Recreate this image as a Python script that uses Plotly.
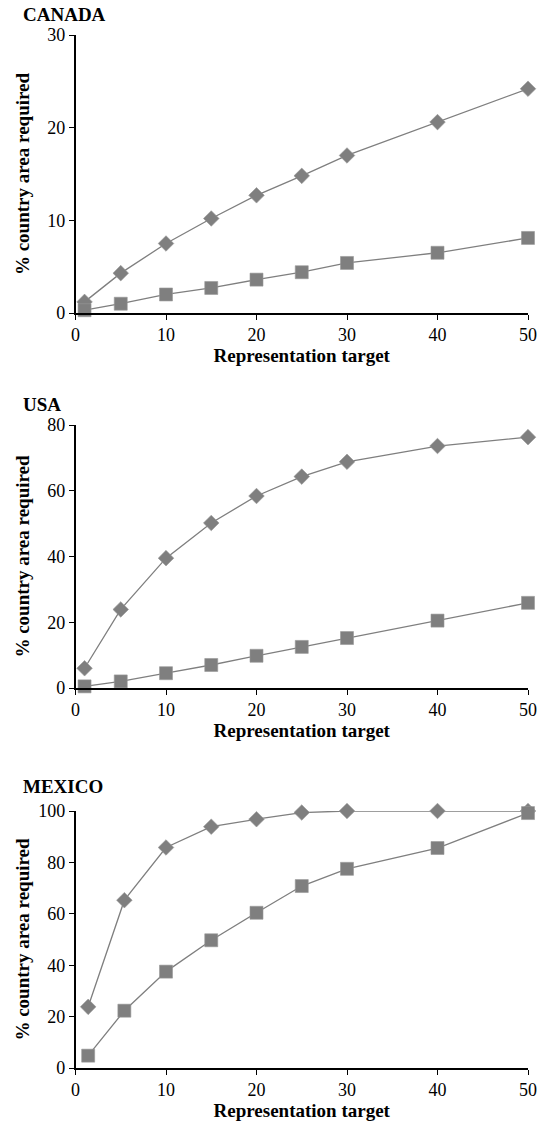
import plotly.graph_objects as go

# ---- data ----
targets = [1, 5, 10, 15, 20, 25, 30, 40, 50]
mexico_targets = [1.4, 5.4, 10, 15, 20, 25, 30, 40, 50]

canada_diamond = [1.2, 4.3, 7.5, 10.2, 12.7, 14.8, 17.0, 20.6, 24.2]
canada_square = [0.3, 1.0, 2.0, 2.7, 3.6, 4.4, 5.4, 6.5, 8.1]

usa_diamond = [6.0, 23.9, 39.5, 50.2, 58.4, 64.3, 68.8, 73.6, 76.3]
usa_square = [0.5, 2.0, 4.5, 7.0, 9.8, 12.5, 15.2, 20.5, 25.9]

mexico_diamond = [23.8, 65.3, 85.8, 93.9, 96.8, 99.4, 100, 100, 100]
mexico_square = [4.8, 22.3, 37.5, 49.7, 60.4, 70.8, 77.5, 85.6, 99.2]

countries = ["CANADA", "USA", "MEXICO"]
y_ranges = [[0, 30], [0, 80], [0, 100]]
y_dticks = [10, 20, 20]
x_ticks = [0, 10, 20, 30, 40, 50]

W, H = 544, 1125
FONT = "Liberation Serif"
GRAY = "#7f7f7f"

panels = [
    (targets, canada_diamond, canada_square),
    (targets, usa_diamond, usa_square),
    (mexico_targets, mexico_diamond, mexico_square),
]

# pixel layout of each panel (top, bottom)
panel_px = [(35, 313), (425, 688), (811, 1068)]
title_px = [14, 404, 786]
ytitle_standoff = [13, 13, 4]
x_left, x_right = 75.5, 528

fig = go.Figure()
layout = dict(
    width=W, height=H,
    margin=dict(l=0, r=0, t=0, b=0, autoexpand=False),
    paper_bgcolor="white", plot_bgcolor="white",
    showlegend=False,
    font=dict(family=FONT, size=18, color="black"),
    annotations=[],
)

for i, (xs, dia, sq) in enumerate(panels):
    n = "" if i == 0 else str(i + 1)
    xa, ya = "x" + n, "y" + n
    fig.add_trace(go.Scatter(
        x=xs, y=dia, xaxis=xa, yaxis=ya, mode="lines+markers",
        name="Diamond series", cliponaxis=False,
        line=dict(color=GRAY, width=1.3),
        marker=dict(symbol="diamond", size=12, color=GRAY,
                    line=dict(color="#999999", width=0.6)),
    ))
    fig.add_trace(go.Scatter(
        x=xs, y=sq, xaxis=xa, yaxis=ya, mode="lines+markers",
        name="Square series", cliponaxis=False,
        line=dict(color=GRAY, width=1.3),
        marker=dict(symbol="square", size=13, color=GRAY,
                    line=dict(color="#999999", width=0.6)),
    ))
    top, bot = panel_px[i]
    layout["xaxis" + n] = dict(
        domain=[x_left / W, x_right / W], anchor=ya, automargin=False,
        range=[0, 50], tickvals=x_ticks, ticks="outside", ticklen=5,
        tickcolor="black", showline=True, linecolor="black", linewidth=1.5,
        showgrid=False, zeroline=False,
        tickfont=dict(family=FONT, size=18, color="black"),
        title=dict(text="Representation target", standoff=3,
                   font=dict(family=FONT, size=19, color="black", weight="bold")),
    )
    layout["yaxis" + n] = dict(
        domain=[1 - bot / H, 1 - top / H], anchor=xa, automargin=False,
        range=y_ranges[i], dtick=y_dticks[i], ticks="outside", ticklen=5,
        tickcolor="black", showline=True, linecolor="black", linewidth=1.5,
        showgrid=False, zeroline=False,
        tickfont=dict(family=FONT, size=18, color="black"),
        title=dict(text="% country area required", standoff=ytitle_standoff[i],
                   font=dict(family=FONT, size=19, color="black", weight="bold")),
    )
    layout["annotations"].append(dict(
        text=countries[i], xref="paper", yref="paper",
        x=21 / W, y=1 - title_px[i] / H, xanchor="left", yanchor="middle",
        showarrow=False,
        font=dict(family=FONT, size=19, color="black", weight="bold"),
    ))

fig.update_layout(**layout)
fig.write_html(
    "out.html",
    config={"displayModeBar": False},
    post_script="document.body.style.margin='0';document.body.style.overflow='hidden';",
)
